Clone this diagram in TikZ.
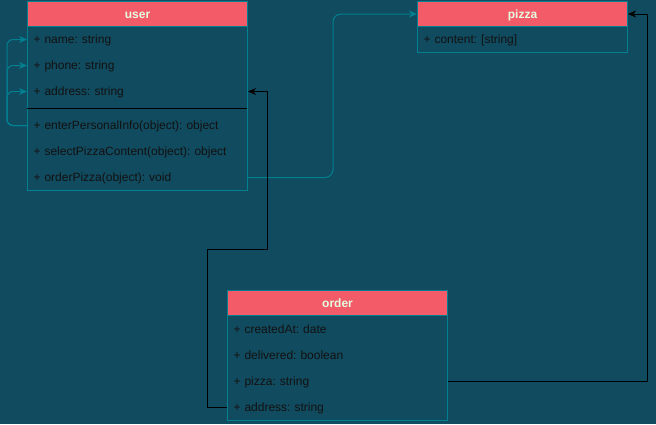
\documentclass[tikz,border=0pt]{standalone}
\usepackage{fontspec}
\setmainfont{Liberation Sans}
\usetikzlibrary{arrows.meta}
\definecolor{bg}{HTML}{114B5F}
\definecolor{hdrfill}{HTML}{F45B69}
\definecolor{strk}{HTML}{028090}
\definecolor{hdrtext}{HTML}{E4FDE1}
\definecolor{rowtext}{HTML}{111111}
\frenchspacing
\begin{document}
\begin{tikzpicture}[x=1bp,y=-1bp,line width=1bp,
  frame/.style={draw=strk,fill=bg,anchor=north west,inner sep=0pt,minimum width=#1},
  hdr/.style={draw=strk,fill=hdrfill,text=hdrtext,font=\fontsize{12bp}{14bp}\selectfont\bfseries,
    anchor=north west,minimum width=#1,minimum height=25bp,inner sep=0pt,text height=8.5bp,text depth=0bp},
  row/.style={anchor=north west,text=rowtext,font=\fontsize{12bp}{14bp}\selectfont,
    text width=#1-12bp,inner xsep=6bp,inner ysep=0pt,minimum height=26bp,align=left,
    text height=8.5bp,text depth=0bp},
  tealconn/.style={draw=strk,rounded corners=6bp,-{Stealth[length=8bp,width=7bp,inset=2.5bp]}},
  blackconn/.style={draw=black,-{Stealth[length=8bp,width=7bp,inset=2.5bp]}}]
\useasboundingbox[fill=bg] (0,0) rectangle (656,424);
% user
\node[frame=220bp,minimum height=189bp] (userbox) at (27,1) {};
\node[hdr=220bp] (userhdr) at (27,1) {user};
\node[row=220bp] (uname) at (27,26) {+ name: string};
\node[row=220bp] (uphone) at (27,52) {+ phone: string};
\node[row=220bp] (uaddr) at (27,78) {+ address: string};
\draw[black] (27,108) -- (247,108);
\node[row=220bp] (uenter) at (27,112) {+ enterPersonalInfo(object): object};
\node[row=220bp] (uselect) at (27,138) {+ selectPizzaContent(object): object};
\node[row=220bp] (uorder) at (27,164) {+ orderPizza(object): void};
% pizza
\node[frame=210bp,minimum height=51bp] (pizzabox) at (417,1) {};
\node[hdr=210bp] (pizzahdr) at (417,1) {pizza};
\node[row=210bp] (pcontent) at (417,26) {+ content: [string]};
% order
\node[frame=220bp,minimum height=130bp] (orderbox) at (227,290) {};
\node[hdr=220bp] (orderhdr) at (227,290) {order};
\node[row=220bp] (ocreated) at (227,316) {+ createdAt: date};
\node[row=220bp] (odeliv) at (227,342) {+ delivered: boolean};
\node[row=220bp] (opizza) at (227,368) {+ pizza: string};
\node[row=220bp] (oaddr) at (227,394) {+ address: string};
% connectors
\draw[tealconn] (uenter.west) -- ++(-20,0) |- (uname.west);
\draw[tealconn] (uenter.west) -- ++(-20,0) |- (uphone.west);
\draw[tealconn] (uenter.west) -- ++(-20,0) |- (uaddr.west);
\draw[tealconn,rounded corners=8bp] (uorder.east) -- ++(85,0) |- (pizzahdr.west);
\draw[blackconn] (oaddr.west) -- ++(-20,0) -- ++(0,-158) -- ++(60,0) |- (uaddr.east);
\draw[blackconn] (opizza.east) -- ++(199,0) |- (pizzahdr.east);
\end{tikzpicture}
\end{document}
